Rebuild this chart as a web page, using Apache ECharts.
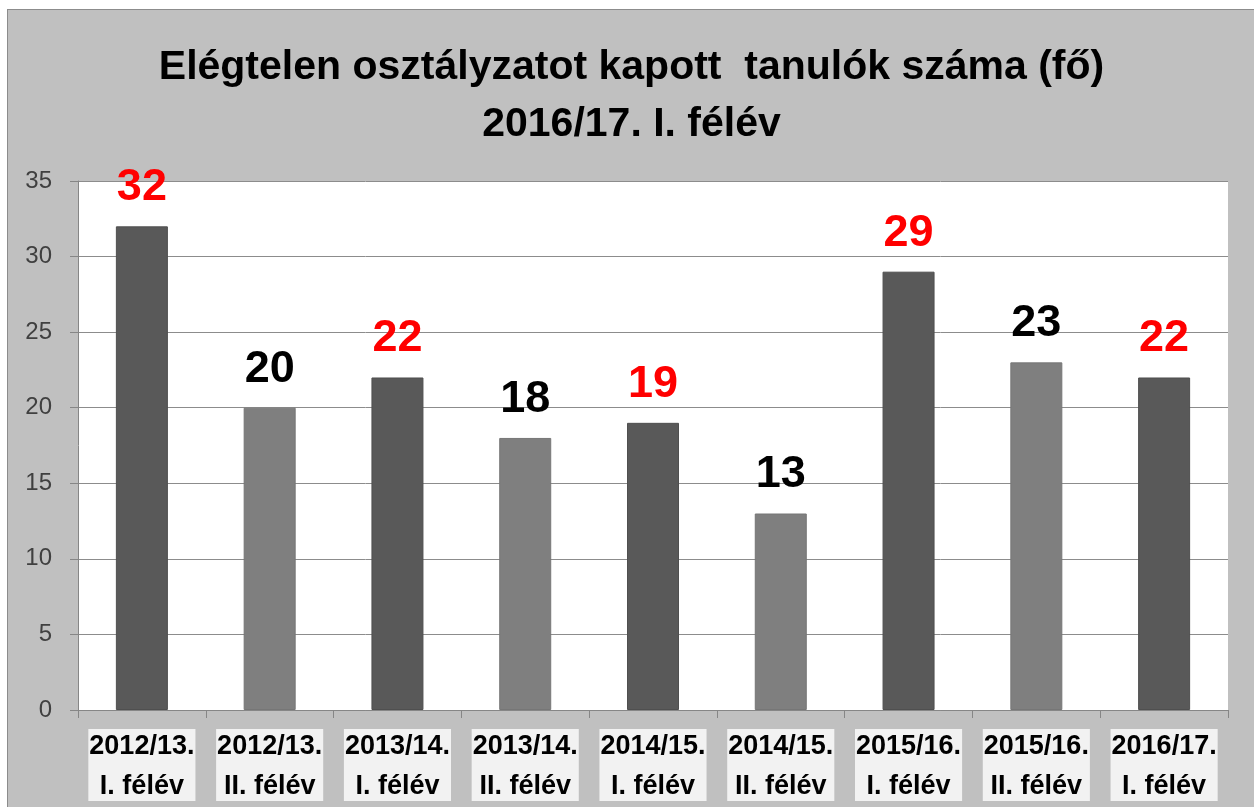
<!DOCTYPE html>
<html>
<head>
<meta charset="utf-8">
<script src="https://cdn.jsdelivr.net/npm/echarts@6/dist/echarts.min.js"></script>
<style>
  html, body { margin: 0; padding: 0; background: #fff; overflow: hidden; }
  #frame { position: absolute; left: 7px; top: 9px; width: 1247px; height: 798px;
           border-left: 1px solid #8c8c8c; border-top: 1px solid #8c8c8c; background: #c0c0c0; }
  #main { position: absolute; left: 0; top: 0; width: 1247px; height: 798px; }
</style>
</head>
<body>
<div id="frame"><div id="main"></div></div>
<script>
// félévek és létszámok
const categories = [
  '2012/13.\nI. félév', '2012/13.\nII. félév',
  '2013/14.\nI. félév', '2013/14.\nII. félév',
  '2014/15.\nI. félév', '2014/15.\nII. félév',
  '2015/16.\nI. félév', '2015/16.\nII. félév',
  '2016/17.\nI. félév'
]
const values = [32, 20, 22, 18, 19, 13, 29, 23, 22]
const yTicks = [0, 5, 10, 15, 20, 25, 30, 35]

const FONT = '"Liberation Sans", Arial, sans-serif'
const isSecond = (name) => name.indexOf('II.') !== -1

const chart = echarts.init(document.getElementById('main'))

const option = {
  backgroundColor: '#c0c0c0',
  animation: false,
  title: {
    text: 'Elégtelen osztályzatot kapott  tanulók száma (fő)\n2016/17. I. félév',
    left: 'center',
    top: 24,
    textStyle: {
      fontFamily: FONT,
      fontWeight: 'bold',
      fontSize: 41,
      lineHeight: 57,
      color: '#000'
    }
  },
  grid: {
    left: 70,
    top: 171,
    width: 1150,
    height: 529,
    show: true,
    backgroundColor: '#fff',
    borderWidth: 0
  },
  xAxis: {
    type: 'category',
    data: categories,
    axisLine: { lineStyle: { color: '#868686', width: 1 } },
    axisTick: { show: true, length: 8, lineStyle: { color: '#868686' } },
    axisLabel: {
      interval: 0,
      margin: 19,
      fontFamily: FONT,
      fontWeight: 'bold',
      fontSize: 27,
      lineHeight: 40,
      color: '#000',
      backgroundColor: '#f2f2f2',
      padding: [-2, 1, -6, 1]
    }
  },
  yAxis: {
    type: 'value',
    min: yTicks[0],
    max: yTicks[yTicks.length - 1],
    interval: 5,
    axisLine: { show: true, lineStyle: { color: '#868686' } },
    axisTick: { show: true, length: 8, lineStyle: { color: '#868686' } },
    axisLabel: {
      margin: 26,
      fontFamily: FONT,
      fontSize: 24,
      color: '#404040'
    },
    splitLine: { lineStyle: { color: '#8c8c8c', width: 1 } }
  },
  series: [{
    type: 'bar',
    barWidth: 52,
    data: values.map((v, i) => ({
      value: v,
      itemStyle: {
        color: isSecond(categories[i]) ? '#7f7f7f' : '#595959',
        borderColor: isSecond(categories[i]) ? '#767676' : '#4f4f4f',
        borderWidth: 1
      },
      label: { color: isSecond(categories[i]) ? '#000' : '#ff0000' }
    })),
    label: {
      show: true,
      position: 'top',
      distance: 16,
      fontFamily: FONT,
      fontWeight: 'bold',
      fontSize: 45
    }
  }]
}
chart.setOption(option)
</script>
</body>
</html>
